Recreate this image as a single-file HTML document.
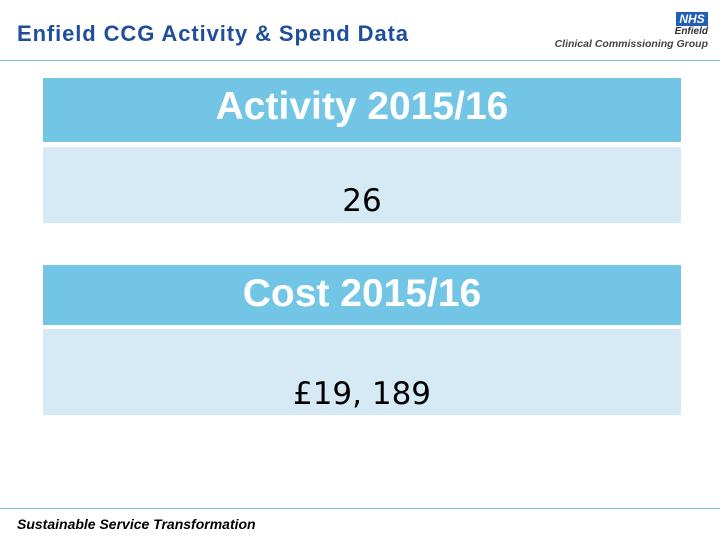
<!DOCTYPE html>
<html><head><meta charset="utf-8"><style>
body{margin:0;width:720px;height:540px;background:#fff;position:relative;overflow:hidden;font-family:"Liberation Sans",sans-serif}
div{position:absolute;box-sizing:border-box}
.h{background:#72c5e5;color:#fff;font-weight:bold;text-align:center;left:43px;width:638px}
.b{background:#d6eaf5;color:#000;text-align:center;left:43px;width:638px;font-family:"DejaVu Sans","Liberation Sans",sans-serif}
</style></head><body>
<div style="left:17px;top:21px;font-size:22px;letter-spacing:0.9px;font-weight:bold;color:#1f4e9a;">Enfield CCG Activity &amp; Spend Data</div>
<div style="left:676px;top:12px;width:32px;height:14px;background:#1f5fb4;color:#fff;font-size:12px;font-weight:bold;font-style:italic;text-align:center;line-height:14px">NHS</div>
<div style="right:12px;top:26px;font-size:10px;font-weight:bold;font-style:italic;color:#333">Enfield</div>
<div style="right:12px;top:38px;font-size:10.5px;font-weight:bold;font-style:italic;color:#444">Clinical Commissioning Group</div>
<div style="left:0;top:60px;width:720px;height:1px;background:#7fc4d4"></div>
<div class="h" style="top:78px;height:64px;font-size:39px;line-height:58px">Activity 2015/16</div>
<div class="b" style="top:147px;height:76px;font-size:31px;padding-top:36px">26</div>
<div class="h" style="top:265px;height:60px;font-size:39px;line-height:58px">Cost 2015/16</div>
<div class="b" style="top:329px;height:86px;font-size:31px;padding-top:47px">£19, 189</div>
<div style="left:0;top:508px;width:720px;height:1px;background:#7fc4d4"></div>
<div style="left:17px;top:516px;font-size:14px;font-weight:bold;font-style:italic;color:#000">Sustainable Service Transformation</div>
</body></html>
